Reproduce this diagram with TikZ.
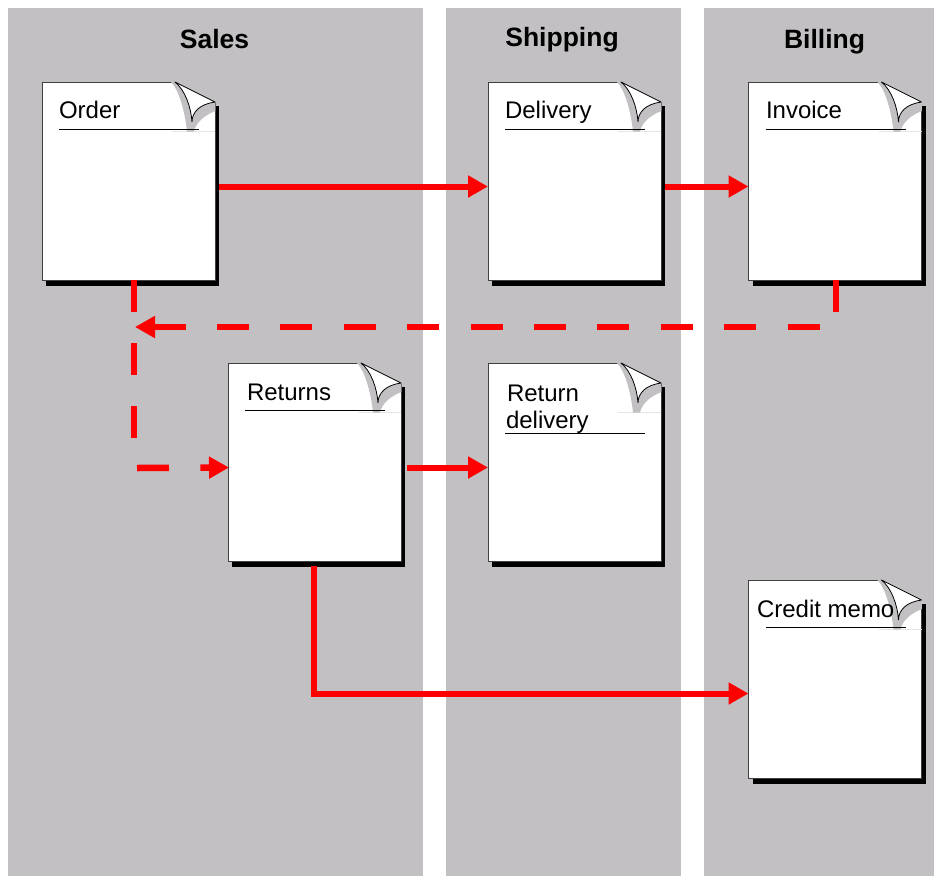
\documentclass[tikz,border=0pt]{standalone}
\usepackage{fontspec}
\setmainfont{Liberation Sans}
\usetikzlibrary{arrows.meta}
\definecolor{lanegray}{HTML}{C2C0C3}
\definecolor{flowred}{HTML}{FF0000}
\tikzset{
  x=1pt,y=-1pt,
  lane/.style={fill=lanegray,draw=none},
  docbody/.style={draw=black!75,line width=0.9pt,fill=white,minimum width=173pt,minimum height=198pt,inner sep=0pt,outer sep=0pt,anchor=north west},
  doctitle/.style={inner sep=0pt,outer sep=0pt,anchor=base west,font=\fontsize{24}{27}\selectfont},
  lanetitle/.style={inner sep=0pt,font=\fontsize{26.5}{30}\selectfont\bfseries},
  flow/.style={draw=flowred,line width=6pt,-{Triangle[length=20pt,width=21pt]}},
  dashflow/.style={flow,line width=6.5pt,dash pattern=on 32pt off 31.4pt},
}
% name, x, y, rule y
\newcommand{\docpage}[4]{%
  \fill[black] (#2+4,#3+24) rectangle (#2+177,#3+203.5);
  \node[docbody] (#1) at (#2,#3) {};
  \begin{scope}[shift={(#2,#3)}]
    \fill[lanegray] (132,-1) -- (177.5,-1) -- (177.5,22) -- (173,20) -- cycle;
    \draw[black!10,line width=0.5pt] (130,49.5) -- (173,49.5);
    \fill[lanegray] (129,0) .. controls (137,8) and (143,30) .. (145,49.5) -- (152,49.5)
       .. controls (154,40) and (163,33) .. (173.4,29) -- (173.4,20) -- (133,0) -- cycle;
    \fill[white] (133,0) -- (173,20) .. controls (158,22) and (150,30) .. (150,40)
       .. controls (149,25) and (143,8) .. (133,0) -- cycle;
    \draw[black,line width=0.8pt,line join=round] (150,40) .. controls (149,25) and (143,8) .. (133,0)
       -- (173,20) .. controls (158,22) and (150,30) .. (150,40);
    \draw[black,line width=0.9pt] (17,#4) -- (157,#4);
  \end{scope}%
}
\begin{document}
\begin{tikzpicture}
\useasboundingbox (0,0) rectangle (934,876);
\fill[white] (0,0) rectangle (934,876);
\fill[lane] (8,8) rectangle (423,876);
\fill[lane] (446,8) rectangle (681,876);
\fill[lane] (704,8) rectangle (934,876);
\node[lanetitle] (salestitle) at (214.5,39) {Sales};
\node[lanetitle] (shippingtitle) at (562,40) {Shipping};
\node[lanetitle] (billingtitle) at (824.5,42) {Billing};

\docpage{order}{42}{82}{47.5}
\docpage{delivery}{488}{82}{47.5}
\docpage{invoice}{748.5}{82}{47.5}
\docpage{returns}{228}{363}{47.5}
\docpage{returndelivery}{488}{363}{70}
\docpage{creditmemo}{748.5}{580}{47}

\node[doctitle] (ordertext) at (59,118) {Order};
\node[doctitle] (deliverytext) at (505,118) {Delivery};
\node[doctitle] (invoicetext) at (766,118) {Invoice};
\node[doctitle] (returnstext) at (247,400) {Returns};
\node[doctitle] (returntext) at (507,401) {Return};
\node[doctitle] (deliverytextb) at (506,428) {delivery};
\node[doctitle] (credittext) at (757,617) {Credit memo};

\coordinate (dashjoin) at (135,327);
\coordinate (returnsjoin) at (137,468);
\coordinate (orderdashend) at (134,439);
\draw[flow] ([shift={(4,5.5)}]order.east) -- ([shift={(0,5.5)}]delivery.west);
\draw[flow] ([shift={(4,5.5)}]delivery.east) -- ([shift={(0,5.5)}]invoice.west);
\draw[flow] ([shift={(6,5.5)}]returns.east) -- ([shift={(0,5.5)}]returndelivery.west);
\draw[flow] ([shift={(-0.5,5)}]returns.south) |- ([shift={(0,14.5)}]creditmemo.west);
\draw[dashflow] ([shift={(1,0)}]invoice.south) |- (dashjoin);
\draw[flowred,line width=6.5pt,dash pattern=on 32pt off 31pt] (order.south -| orderdashend) -- (orderdashend);
\draw[dashflow] (returnsjoin) -- ([shift={(1,5.5)}]returns.west);
\end{tikzpicture}
\end{document}
